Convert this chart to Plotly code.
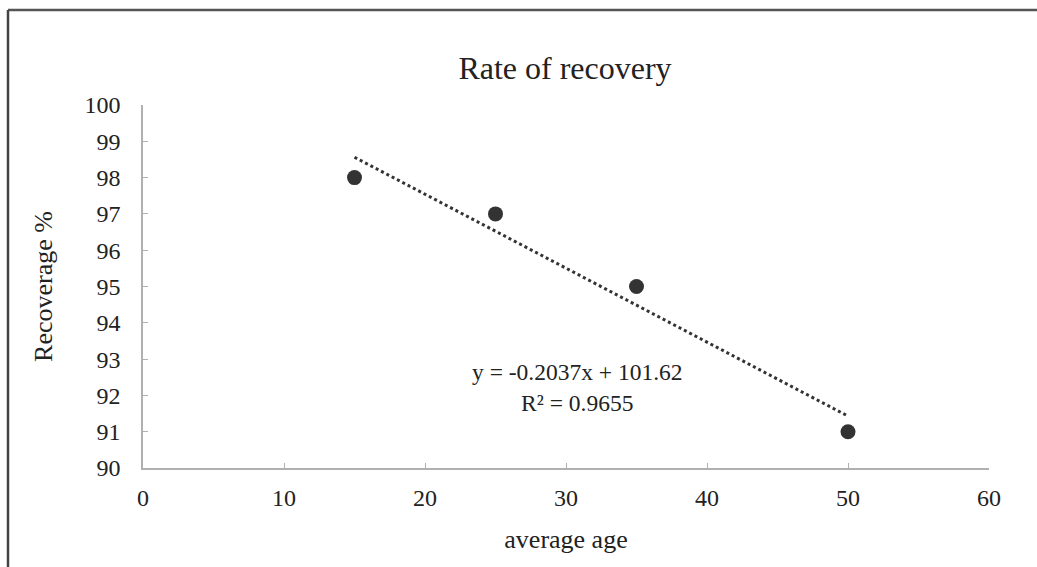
import numpy as np
import plotly.graph_objects as go

ages = [15, 25, 35, 50]
recovery = [98, 97, 95, 91]
x_ticks = [0, 10, 20, 30, 40, 50, 60]
y_ticks = [90, 91, 92, 93, 94, 95, 96, 97, 98, 99, 100]

slope, intercept = np.polyfit(ages, recovery, 1)
pred = np.polyval([slope, intercept], ages)
r2 = 1 - np.sum((np.array(recovery) - pred) ** 2) / np.sum((np.array(recovery) - np.mean(recovery)) ** 2)
trend_x = [min(ages), max(ages)]
trend_y = [slope * v + intercept for v in trend_x]

FONT = "Liberation Serif"
TXT = "#222222"
W, H = 1037, 567
L, R, T, B = 143, 48, 105, 99
pw, ph = W - L - R, H - T - B

fig = go.Figure()
fig.add_trace(go.Scatter(x=trend_x, y=trend_y, mode="lines",
                         line=dict(color="#333333", width=3, dash="dot"),
                         hoverinfo="skip", showlegend=False))
fig.add_trace(go.Scatter(x=ages, y=recovery, mode="markers",
                         marker=dict(color="#333333", size=15),
                         showlegend=False))

eq_text = f"y = {slope:.4f}x + {intercept:.2f}<br>R² = {r2:.4f}"
fig.add_annotation(x=(577 - L) / pw, xref="paper", y=(H - B - 387) / ph, yref="paper",
                   text=eq_text, showarrow=False, align="center",
                   xanchor="center", yanchor="middle",
                   font=dict(family=FONT, size=23.5, color=TXT))

# scanned frame border
top_y = 1 + (T - 10) / ph
left_x = (8 - L) / pw
fig.add_shape(type="line", xref="paper", yref="paper", x0=left_x, x1=(W - L) / pw + 0.01,
              y0=top_y, y1=top_y, line=dict(color="#555555", width=2.5))
fig.add_shape(type="line", xref="paper", yref="paper", x0=left_x, x1=left_x,
              y0=top_y, y1=-(B + 5) / ph, line=dict(color="#444444", width=2.5))

fig.update_layout(
    width=W, height=H,
    margin=dict(l=L, r=R, t=T, b=B),
    paper_bgcolor="white", plot_bgcolor="white",
    title=dict(text="Rate of recovery", x=565 / W, xanchor="center",
               y=1 - 68 / H, yanchor="middle",
               font=dict(family=FONT, size=32, color=TXT)),
    font=dict(family=FONT, color=TXT),
    xaxis=dict(range=[0, 60], tickvals=x_ticks, showgrid=False, zeroline=False,
               showline=True, linecolor="#b0b0b0", linewidth=1.5,
               ticks="inside", ticklen=5, tickcolor="#b0b0b0",
               tickfont=dict(family=FONT, size=24, color=TXT),
               ticklabelstandoff=7,
               title=dict(text="average age", font=dict(family=FONT, size=26, color=TXT),
                          standoff=20)),
    yaxis=dict(range=[90, 100], tickvals=y_ticks, showgrid=False, zeroline=False,
               showline=True, linecolor="#b0b0b0", linewidth=1.5,
               ticks="inside", ticklen=5, tickcolor="#b0b0b0",
               tickfont=dict(family=FONT, size=24, color=TXT),
               ticklabelstandoff=16,
               title=dict(text="Recoverage %", font=dict(family=FONT, size=26, color=TXT),
                          standoff=24)),
)

fig.write_html("out.html", config={"displayModeBar": False},
               post_script="document.body.style.margin='0';document.body.style.overflow='hidden';")
